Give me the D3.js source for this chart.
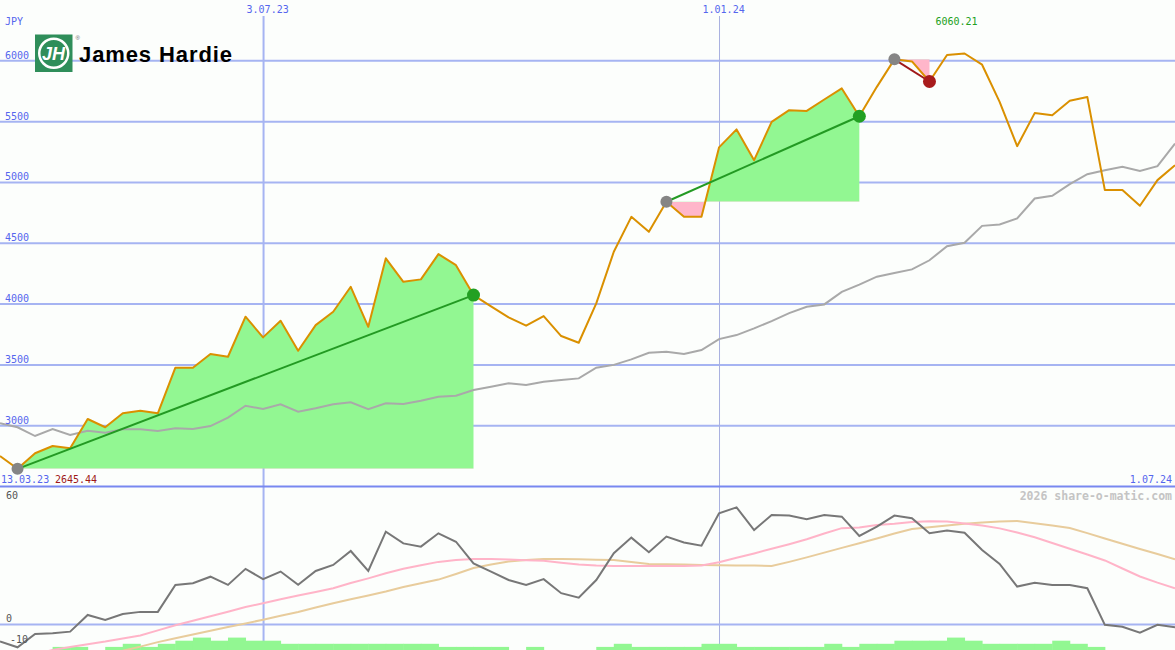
<!DOCTYPE html>
<html><head><meta charset="utf-8">
<script src="https://cdn.jsdelivr.net/npm/d3@7"></script>
<style>
html,body{margin:0;padding:0;background:#fcfefc;}
svg{display:block;}
text{font-family:"DejaVu Sans Mono",monospace;font-size:10px;}
</style></head><body>
<svg id="c" width="1175" height="650"></svg>
<script>
// ---- data ----
const startDate = "2023-03-20";
const endDate = "2024-07-01";
const price = [2751,2645.44,2773,2833,2814,3055,2987,3102,3123,3102,
  3477,3477,3589,3567,3896,3726,3863,3616,3827,3937,
  4142,3813,4376,4183,4203,4411,4320,4074,3981,3891,
  3822,3901,3737,3682,4006,4430,4717,4594,4841,4717,
  4717,5288,5436,5183,5498,5594,5588,5682,5773,5544,
  5786,6012,5995,5830,6048,6060.21,5968,5662,5298,5570,
  5553,5671,5703,4937,4937,4808,5019,5142];
const benchmark = [3020,2987,2915,2973,2924,2959,2943,2970,2970,2956,
  2978,2973,2997,3066,3164,3137,3176,3115,3143,3176,
  3192,3135,3184,3178,3205,3238,3247,3293,3320,3348,
  3334,3362,3375,3389,3477,3500,3545,3600,3608,3589,
  3622,3712,3745,3800,3860,3925,3978,3997,4100,4160,
  4225,4255,4285,4360,4476,4504,4643,4655,4704,4868,
  4890,4986,5068,5101,5128,5095,5134,5320];
const momentum = [-8.3,-11.1,-4.6,-4.3,-3.5,4.6,2.2,5.1,6.1,6.1,
  19.2,20.0,23.2,19.2,27.0,22.0,25.7,19.3,26.0,28.9,
  35.7,26.0,45.1,39.4,37.8,44.3,40.2,29.7,25.7,21.6,
  19.2,22.0,15.2,13.0,21.6,34.6,42.2,35.1,42.7,39.8,
  38.3,54.0,56.9,45.9,53.2,52.9,51.1,53.2,52.4,43.0,
  47.5,52.9,51.6,44.3,45.6,44.6,36.2,29.4,18.4,20.3,
  19.2,19.2,17.6,-0.2,-1.1,-4.0,-0.2,-1.4];
const avgFast = [-19,-17,-14.6,-12.4,-11.0,-9.6,-8.3,-6.8,-5.4,-2.9,
  -0.4,1.8,4.0,6.2,8.5,10.3,12.2,14.1,15.8,17.6,
  20.1,22.4,24.9,27.1,28.8,30.4,31.3,31.8,31.8,31.6,
  31.2,30.9,30.0,29.1,28.6,28.4,28.4,28.4,28.4,28.4,
  28.6,30.2,32.4,34.5,36.8,39.0,41.4,44.2,46.8,47.1,
  48.3,48.9,49.8,50.2,50.0,49.1,48.1,46.7,44.7,42.4,
  39.6,36.8,34.0,31.1,27.2,23.3,20.3,17.6];
const avgSlow = [-21,-20,-19,-17.5,-16,-15,-14,-12.8,-10.8,-8.6,
  -6.7,-4.9,-3.1,-1.3,0.5,2.3,4.2,6.0,8.2,10.3,
  12.2,14.1,16.0,18.2,20.0,21.8,24.5,27.4,29.1,30.6,
  31.3,31.8,31.8,31.7,31.5,31.3,30.4,29.4,29.3,29.1,
  28.9,28.8,28.7,28.6,28.4,30.4,32.6,34.9,37.2,39.5,
  41.8,44.2,46.4,47.2,48.1,48.9,49.5,50.0,50.3,49.2,
  48.1,46.9,44.4,41.8,39.2,36.7,34.2,31.7];
const volumeBars = [0,0,0,1,1,0,1,2,1,2,
  3,4,3,4,3,3,2,2,2,2,
  2,2,2,2,2,1,1,1,1,0,
  1,0,0,0,1,2,1,1,1,1,
  2,2,1,1,1,1,1,2,1,2,
  2,3,3,3,4,3,2,2,2,2,
  3,2,1,0,0,0,0,0];
const yTicks = [3000,3500,4000,4500,5000,5500,6000];
const lowerTicks = [60,0,-10];
const xTickDates = ["2023-07-03","2024-01-01"];
const xTickLabels = ["3.07.23","1.01.24"];
const trendStart = [1,38,51];
const trendEnd = [27,49,53];
const currencyLabel = "JPY";
const leftDateLabel = "13.03.23";
const rightDateLabel = "1.07.24";
const lowLabel = "2645.44";
const highLabel = "6060.21";
const creditLabel = "2026 share-o-matic.com";
const companyName = "James Hardie";

// ---- scales ----
const W = 1175, H = 650;
const parse = d3.utcParse("%Y-%m-%d");
const t0 = parse(startDate), t1 = parse(endDate);
const dates = price.map((_, i) => d3.utcDay.offset(t0, 7 * i));
const x = d3.scaleUtc().domain([t0, t1]).range([0, W]);
const y = d3.scaleLinear().domain([2500, 6500]).range([486.5, 0]);
const y2 = d3.scaleLinear().domain([-10, 60]).range([645, 501]);
const yb = d3.scaleLinear().domain([0, 4]).range([650, 637.6]);

const svg = d3.select("#c");
const defs = svg.append("defs");
svg.append("rect").attr("width", W).attr("height", H).attr("fill", "#fcfefc");

const BLUE_TXT = "#5566ee", GRID = "#a6b4f2";

// horizontal grid (main)
svg.append("g").selectAll("line").data(yTicks).join("line")
  .attr("x1", 0).attr("x2", W).attr("y1", d => y(d)).attr("y2", d => y(d))
  .attr("stroke", GRID).attr("stroke-width", 2);

// vertical date lines via axis
const xAxis = d3.axisTop(x).tickValues(xTickDates.map(parse))
  .tickFormat((d, i) => xTickLabels[i]).tickSize(-(H - 16)).tickPadding(3);
const gx = svg.append("g").attr("transform", "translate(0,16)").call(xAxis);
gx.select(".domain").remove();
gx.selectAll(".tick line").attr("stroke", (d, i) => i === 0 ? GRID : "#a8b0e0")
  .attr("stroke-width", (d, i) => i === 0 ? 2 : 1);
gx.selectAll(".tick text").attr("fill", BLUE_TXT).attr("text-anchor", "start")
  .attr("dx", -17).style("font-family", "'DejaVu Sans Mono',monospace").style("font-size", "10px");

// separator and lower zero line
svg.append("line").attr("x1", 0).attr("x2", W).attr("y1", y(2500)).attr("y2", y(2500))
  .attr("stroke", "#7888f0").attr("stroke-width", 2);
svg.append("line").attr("x1", 0).attr("x2", W).attr("y1", y2(0)).attr("y2", y2(0))
  .attr("stroke", GRID).attr("stroke-width", 2);

// trend fills
trendStart.forEach((s, k) => {
  const e = trendEnd[k];
  const base = price[s];
  const idx = d3.range(s, e + 1);
  const area = d3.area().x(i => x(dates[i])).y0(y(base)).y1(i => y(price[i]));
  const cu = "cu" + k, cd = "cd" + k;
  defs.append("clipPath").attr("id", cu).append("rect")
    .attr("x", 0).attr("y", 0).attr("width", W).attr("height", y(base));
  defs.append("clipPath").attr("id", cd).append("rect")
    .attr("x", 0).attr("y", y(base)).attr("width", W).attr("height", 487 - y(base));
  svg.append("path").attr("d", area(idx)).attr("fill", "#92f792").attr("clip-path", `url(#${cu})`);
  svg.append("path").attr("d", area(idx)).attr("fill", "#ffb6ca").attr("clip-path", `url(#${cd})`);
});

// benchmark + price lines
const lineMain = arr => d3.line().x((d, i) => x(dates[i])).y(d => y(d))(arr);
svg.append("path").attr("d", lineMain(benchmark)).attr("fill", "none")
  .attr("stroke", "#a9a9a9").attr("stroke-width", 2);
svg.append("path").attr("d", lineMain(price)).attr("fill", "none")
  .attr("stroke", "#da9000").attr("stroke-width", 2).attr("stroke-linejoin", "round");

// trend lines and dots
trendStart.forEach((s, k) => {
  const e = trendEnd[k];
  const up = price[e] > price[s];
  const col = up ? "#22a022" : "#a81c1c";
  svg.append("line").attr("x1", x(dates[s])).attr("y1", y(price[s]))
    .attr("x2", x(dates[e])).attr("y2", y(price[e]))
    .attr("stroke", up ? "#239a23" : "#a01818").attr("stroke-width", 2);
  svg.append("circle").attr("cx", x(dates[s])).attr("cy", y(price[s])).attr("r", 6).attr("fill", "#858585");
  svg.append("circle").attr("cx", x(dates[e])).attr("cy", y(price[e])).attr("r", 6.5).attr("fill", col);
});

// lower panel
svg.append("g").selectAll("rect").data(volumeBars).join("rect")
  .attr("x", (d, i) => x(dates[i]))
  .attr("width", (d, i) => x(d3.utcDay.offset(dates[i], 7)) - x(dates[i]) + 0.5)
  .attr("y", d => yb(d)).attr("height", d => yb(0) - yb(d))
  .attr("fill", "#92f792");
const lineLow = arr => d3.line().x((d, i) => x(dates[i])).y(d => y2(d))(arr);
svg.append("path").attr("d", lineLow(avgSlow)).attr("fill", "none").attr("stroke", "#e8cc9c").attr("stroke-width", 2);
svg.append("path").attr("d", lineLow(avgFast)).attr("fill", "none").attr("stroke", "#ffb4c8").attr("stroke-width", 2);
svg.append("path").attr("d", lineLow(momentum)).attr("fill", "none").attr("stroke", "#777777").attr("stroke-width", 2);

// y labels
svg.append("g").selectAll("text").data(yTicks).join("text")
  .attr("x", 5).attr("y", d => y(d) - 2).attr("fill", BLUE_TXT).text(d => d);
svg.append("text").attr("x", 5).attr("y", 25).attr("fill", BLUE_TXT).text(currencyLabel);
svg.append("g").selectAll("text").data(lowerTicks).join("text")
  .attr("x", d => d < 0 ? 10 : 6).attr("y", d => y2(d) - 2).attr("fill", "#555").text(d => d);

// date/value labels
svg.append("text").attr("x", 1).attr("y", 483).attr("fill", BLUE_TXT).text(leftDateLabel);
svg.append("text").attr("x", 55).attr("y", 483).attr("fill", "#a01818").text(lowLabel);
svg.append("text").attr("x", 1172).attr("y", 483).attr("text-anchor", "end").attr("fill", BLUE_TXT).text(rightDateLabel);
const hiIdx = price.indexOf(d3.max(price));
svg.append("text").attr("x", x(dates[hiIdx]) - 8).attr("y", 25).attr("text-anchor", "middle")
  .attr("fill", "#22a022").text(highLabel);
svg.append("text").attr("x", 1172).attr("y", 500).attr("text-anchor", "end").attr("fill", "#c4c4c4")
  .style("font-weight", "bold").style("font-size", "11.5px").text(creditLabel);

// logo
const lg = svg.append("g");
lg.append("rect").attr("x", 35).attr("y", 34.5).attr("width", 37.5).attr("height", 37.5).attr("fill", "#2f8e5a");
lg.append("circle").attr("cx", 53.75).attr("cy", 53.25).attr("r", 14.5).attr("fill", "none")
  .attr("stroke", "#fff").attr("stroke-width", 2.5);
lg.append("text").attr("x", 53.5).attr("y", 60).attr("text-anchor", "middle").attr("fill", "#fff")
  .style("font-family", "'Liberation Sans',Arial,sans-serif").style("font-weight", "bold")
  .style("font-style", "italic").style("font-size", "18px").text("JH");
lg.append("text").attr("x", 75.5).attr("y", 40).attr("fill", "#666").style("font-size", "6px")
  .style("font-family", "'Liberation Sans',Arial,sans-serif").text("®");
lg.append("text").attr("x", 79).attr("y", 61.5).attr("fill", "#000")
  .style("font-family", "'Liberation Sans',Arial,sans-serif").style("font-weight", "bold")
  .style("font-size", "22px").style("letter-spacing", "0.9px").text(companyName);
</script>
</body></html>
